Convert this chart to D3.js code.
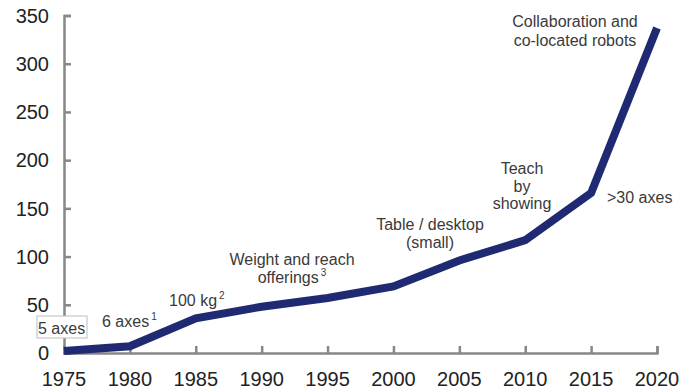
<!DOCTYPE html>
<html>
<head>
<meta charset="utf-8">
<script src="https://cdn.jsdelivr.net/npm/d3@7"></script>
<style>
  html, body { margin: 0; padding: 0; background: #fff; }
  svg { display: block; font-family: "Liberation Sans", Arial, sans-serif; }
</style>
</head>
<body>
<svg id="chart" width="686" height="390"></svg>
<script>
// Robot capability milestones over time
const years = [1975, 1980, 1985, 1990, 1995, 2000, 2005, 2010, 2015, 2020];
const values = [2, 7, 36, 48, 57, 69, 96, 117, 166, 337];
const yTicks = [0, 50, 100, 150, 200, 250, 300, 350];
const xTicks = [1975, 1980, 1985, 1990, 1995, 2000, 2005, 2010, 2015, 2020];

// Annotation text
const noteLines = [
  ["5 axes"],
  ["6 axes", "1"],
  ["100 kg", "2"],
  ["Weight and reach", "offerings", "3"],
  ["Table / desktop", "(small)"],
  ["Teach", "by", "showing"],
  [">30 axes"],
  ["Collaboration and", "co-located robots"]
];

const svg = d3.select("#chart");
const margin = { left: 64, right: 29, top: 15.5, bottom: 37 };
const W = 686, H = 390;

const x = d3.scaleLinear().domain([1975, 2020]).range([margin.left, W - margin.right]);
const y = d3.scaleLinear().domain([0, 350]).range([H - margin.bottom, margin.top]);

const axisColor = "#888888";
const textColor = "#3a3a3a";

// Y axis (ticks point inward)
const yAxis = svg.append("g")
  .attr("transform", `translate(${x(1975)},0)`)
  .call(d3.axisRight(y).tickValues(yTicks).tickSize(7).tickSizeOuter(7).tickFormat(""));
yAxis.select(".domain").attr("stroke", axisColor).attr("stroke-width", 2.5);
yAxis.selectAll(".tick line").attr("stroke", axisColor).attr("stroke-width", 2.5);

svg.append("g").selectAll("text")
  .data(yTicks)
  .join("text")
  .attr("x", 49)
  .attr("y", d => y(d))
  .attr("dy", "0.36em")
  .attr("text-anchor", "end")
  .attr("font-size", 20)
  .attr("fill", "#222")
  .text(d => d);

// X axis (ticks point upward)
const xAxis = svg.append("g")
  .attr("transform", `translate(0,${y(0)})`)
  .call(d3.axisTop(x).tickValues(xTicks).tickSize(7).tickSizeOuter(7).tickFormat(""));
xAxis.select(".domain").attr("stroke", axisColor).attr("stroke-width", 2.5);
xAxis.selectAll(".tick line").attr("stroke", axisColor).attr("stroke-width", 2.5);

svg.append("g").selectAll("text")
  .data(xTicks)
  .join("text")
  .attr("x", d => x(d))
  .attr("y", 386)
  .attr("text-anchor", "middle")
  .attr("font-size", 20)
  .attr("fill", "#222")
  .text(d => d);

// Main series line
const line = d3.line()
  .x((d, i) => x(years[i]))
  .y(d => y(d));

svg.append("path")
  .datum(values)
  .attr("d", line)
  .attr("fill", "none")
  .attr("stroke", "#1f2a72")
  .attr("stroke-width", 8)
  .attr("stroke-linejoin", "miter")
  .attr("stroke-linecap", "butt");

// Annotations
const fs = 16;
const notes = svg.append("g").attr("font-size", fs).attr("fill", textColor);

// 5 axes (boxed)
const box = notes.append("g");
box.append("rect")
  .attr("x", 37).attr("y", 316).attr("width", 50).attr("height", 22)
  .attr("fill", "#fff").attr("stroke", "#bdbdbd").attr("stroke-width", 1);
box.append("text").attr("x", 38).attr("y", 334).text(noteLines[0][0]);

function supText(sel, xPos, yPos, main, sup, anchor) {
  const t = sel.append("text").attr("x", xPos).attr("y", yPos).attr("text-anchor", anchor);
  t.append("tspan").text(main);
  t.append("tspan").attr("font-size", 10).attr("dy", -7).attr("dx", 2).text(sup);
  return t;
}

supText(notes, 102, 327, noteLines[1][0], noteLines[1][1], "start");
supText(notes, 169, 306, noteLines[2][0], noteLines[2][1], "start");

notes.append("text").attr("x", 292).attr("y", 265).attr("text-anchor", "middle").text(noteLines[3][0]);
supText(notes, 292, 283, noteLines[3][1], noteLines[3][2], "middle");

notes.append("text").attr("x", 430).attr("y", 230).attr("text-anchor", "middle").text(noteLines[4][0]);
notes.append("text").attr("x", 430).attr("y", 248).attr("text-anchor", "middle").text(noteLines[4][1]);

noteLines[5].forEach((s, i) => {
  notes.append("text").attr("x", 522).attr("y", 174 + i * 17.5).attr("text-anchor", "middle").text(s);
});

notes.append("text").attr("x", 607).attr("y", 203).text(noteLines[6][0]);

noteLines[7].forEach((s, i) => {
  notes.append("text").attr("x", 575).attr("y", 27 + i * 19).attr("text-anchor", "middle").text(s);
});
</script>
</body>
</html>
